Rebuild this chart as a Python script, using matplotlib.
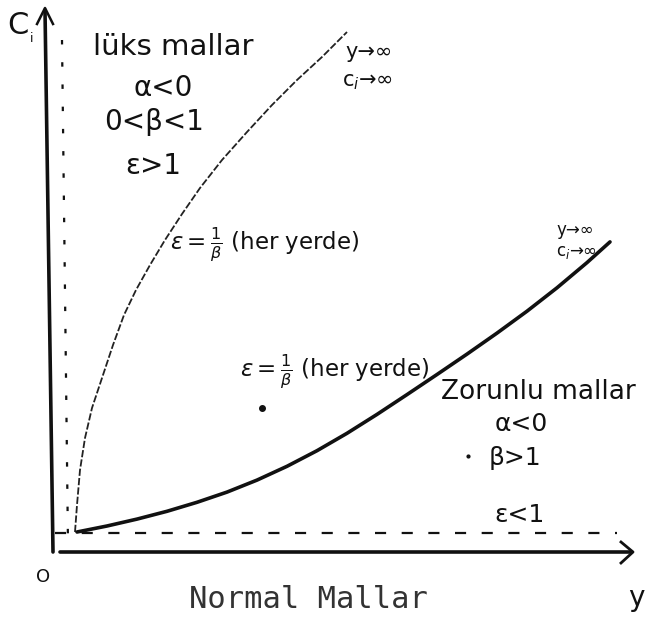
import matplotlib
matplotlib.use("Agg")
import matplotlib.pyplot as plt

# Engel curves: income y (horizontal) against consumption c_i (vertical)
# Luxury goods (lüks mallar): concave, rises steeply
luxury_y = [25, 27, 30, 35, 42, 52, 63, 74, 86, 100, 115, 132, 150, 172,
            197, 222, 247, 272, 297]
luxury_c = [20, 47, 82, 114, 144, 174, 207, 237, 262, 287, 312, 338, 364,
            392, 420, 447, 472, 495, 520]

# Necessary goods (zorunlu mallar): convex, rises slowly
necessity_y = [27, 57, 87, 117, 147, 177, 207, 237, 267, 297, 327, 357, 387,
               417, 447, 477, 507, 537, 560]
necessity_c = [20, 26, 32.9, 40.7, 49.7, 59.9, 71.9, 85.7, 101.3, 118.7,
               137.6, 157.4, 177.5, 197.9, 218.9, 240.8, 264.2, 289.4, 310.1]

# Reference lines drawn just inside the axes
ref_level_c = 19
ref_level_y = [5, 567]
ref_vert_y = [12, 18]
ref_vert_c = [512, 7]

plt.rcParams['font.family'] = ['DejaVu Sans']

fig = plt.figure(figsize=(6.46, 6.26), dpi=100)
ax = fig.add_axes([0, 0, 1, 1])
ax.set_xlim(-50, 596)
ax.set_ylim(-74, 552)
ax.axis('off')


def pos(px, py):
    return px - 50, 552 - py


ink = '#111111'

# axes, hand-drawn look
ax.plot(*zip(pos(53, 552), pos(45, 10)), color=ink, lw=2.6, solid_capstyle='round')
ax.plot(*zip(pos(60, 552), pos(631, 552)), color=ink, lw=2.6, solid_capstyle='round')
# arrow heads
ax.plot(*zip(pos(37, 24), pos(45, 8), pos(53, 24)), color=ink, lw=1.8)
ax.plot(*zip(pos(621, 542), pos(633, 552), pos(621, 563)), color=ink, lw=2.0)

# dashed guide lines
ax.plot(ref_level_y, [ref_level_c, ref_level_c], color=ink, lw=1.6,
        linestyle=(0, (5, 7)))
ax.plot(ref_vert_y, ref_vert_c, color=ink, lw=1.6, linestyle=(0, (2, 8)))

# the two Engel curves
ax.plot(luxury_y, luxury_c, color='#222222', lw=1.3, linestyle=(0, (4, 1.2)))
ax.plot(necessity_y, necessity_c, color=ink, lw=2.6, solid_capstyle='round',
        solid_joinstyle='round')

# stray dots
ax.plot(*pos(262, 408), 'o', color=ink, ms=4)
ax.plot(*pos(468, 456), 'o', color=ink, ms=2)

# axis labels
ax.text(*pos(18, 25), 'C', fontsize=22, ha='center', va='center', color=ink)
ax.text(*pos(32, 39), 'i', fontsize=9, ha='center', va='center', color=ink)
ax.text(*pos(43, 577), 'O', fontsize=13, ha='center', va='center', color=ink)
ax.text(*pos(636, 598), 'y', fontsize=20, ha='center', va='center', color=ink)

# luxury goods block
ax.text(*pos(93, 47), 'lüks mallar', fontsize=21, ha='left', va='center', color=ink)
ax.text(*pos(163, 88), 'α<0', fontsize=20, ha='center', va='center', color=ink)
ax.text(*pos(154, 122), '0<β<1', fontsize=20, ha='center', va='center', color=ink)
ax.text(*pos(153, 166), 'ε>1', fontsize=20, ha='center', va='center', color=ink)
ax.text(*pos(345, 52), 'y→∞', fontsize=15, ha='left', va='center', color=ink)
ax.text(*pos(342, 82), 'c$_i$→∞', fontsize=15, ha='left', va='center', color=ink)
ax.text(*pos(170, 245), r'$\varepsilon=\frac{1}{\beta}$ (her yerde)', fontsize=16.5,
        ha='left', va='center', color=ink)

# necessary goods block
ax.text(*pos(240, 372), r'$\varepsilon=\frac{1}{\beta}$ (her yerde)', fontsize=16.5,
        ha='left', va='center', color=ink)
ax.text(*pos(556, 230), 'y→∞', fontsize=12, ha='left', va='center', color=ink)
ax.text(*pos(556, 252), 'c$_i$→∞', fontsize=12, ha='left', va='center', color=ink)
ax.text(*pos(441, 392), 'Zorunlu mallar', fontsize=19, ha='left', va='center', color=ink)
ax.text(*pos(521, 424), 'α<0', fontsize=18, ha='center', va='center', color=ink)
ax.text(*pos(515, 458), 'β>1', fontsize=18, ha='center', va='center', color=ink)
ax.text(*pos(520, 515), 'ε<1', fontsize=18, ha='center', va='center', color=ink)

# caption
ax.text(*pos(308, 600), 'Normal Mallar', fontsize=22, family='DejaVu Sans Mono',
        ha='center', va='center', color='#333333')

fig.savefig('out.png', dpi=100, facecolor='white')
